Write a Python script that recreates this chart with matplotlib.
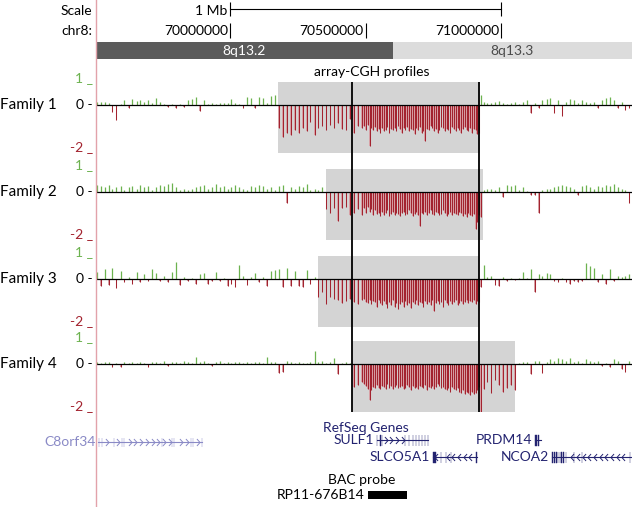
import numpy as np
import matplotlib
matplotlib.use('Agg')
import matplotlib.pyplot as plt
from matplotlib.path import Path
from matplotlib.lines import Line2D

plt.rcParams['font.family'] = ['Lato', 'DejaVu Sans']

# ---------------- data ----------------
VIEW_START, VIEW_END = 69.5055, 71.4834  # Mb, chr8

scale_ticks = [70.0, 70.5, 71.0]
scale_labels = ['70000000', '70500000', '71000000']
scale_bar = [70.0, 71.0]

band_names = ['8q13.2', '8q13.3']
band_start = [69.5055, 70.601]
band_end = [70.601, 71.4834]

probe_mb = [
    69.510, 69.524, 69.537, 69.553, 69.566, 69.581, 69.597, 69.610, 69.626, 69.640,
    69.655, 69.668, 69.684, 69.699, 69.712, 69.728, 69.742, 69.757, 69.770, 69.786,
    69.801, 69.815, 69.830, 69.844, 69.859, 69.873, 69.889, 69.903, 69.918, 69.932,
    69.947, 69.962, 69.976, 69.991, 70.005, 70.020, 70.034, 70.049, 70.064, 70.078,
    70.093, 70.107, 70.122, 70.137, 70.151, 70.166, 70.180, 70.195, 70.210, 70.224,
    70.239, 70.253, 70.268, 70.283, 70.297, 70.312, 70.326, 70.341, 70.356, 70.370,
    70.385, 70.399, 70.414, 70.429, 70.443, 70.458, 70.472, 70.487,
    70.495, 70.502, 70.508, 70.515, 70.522, 70.528, 70.535, 70.541, 70.548, 70.555,
    70.561, 70.568, 70.575, 70.581, 70.588, 70.594, 70.601, 70.608, 70.614, 70.621,
    70.628, 70.634, 70.641, 70.647, 70.654, 70.661, 70.667, 70.674, 70.681, 70.687,
    70.694, 70.700, 70.707, 70.714, 70.720, 70.727, 70.734, 70.740, 70.747, 70.753,
    70.760, 70.767, 70.773, 70.780, 70.787, 70.793, 70.800, 70.806, 70.813, 70.820,
    70.826, 70.833, 70.840, 70.846, 70.853, 70.859, 70.866, 70.873, 70.879, 70.886,
    70.893, 70.899, 70.906, 70.912,
    70.918, 70.927, 70.936, 70.950, 70.964, 70.979, 70.993, 71.008, 71.022, 71.037,
    71.051, 71.066, 71.080, 71.095, 71.110, 71.124, 71.139, 71.153, 71.168, 71.182,
    71.197, 71.212, 71.226, 71.241, 71.255, 71.270, 71.284, 71.299, 71.314, 71.328,
    71.343, 71.357, 71.372, 71.386, 71.401, 71.416, 71.430, 71.445, 71.459, 71.474,
]

family1 = [
    0.15, 0.12, 0.15, 0.1, -0.3, -0.65, 0.05, 0.2, -0.12, 0.25,
    0.18, 0.2, 0.15, 0.22, 0.1, 0.3, 0.12, 0.05, -0.1, 0.05,
    -0.15, 0.05, -0.1, 0.2, 0.25, 0.35, -0.25, 0.2, 0.05, 0.08,
    0.05, 0.1, 0.08, 0.1, 0.25, 0.1, 0.05, -0.15, 0.35, 0.3,
    -0.12, 0.35, 0.3, 0.1, 0.4, 0.45, -1.0, -1.4, -1.2, -1.3,
    -1.1, -1.2, -1.0, -1.15, -0.75, -1.3, -1.0, -0.9, -1.1, -0.85,
    -1.0, -0.8, -1.05, -1.1, -0.6, -1.2, -0.9, -1.0,
    -0.9, -1.1, -0.85, -1.8, -1.0, -1.1, -0.95, -1.15, -1.05, -1.2,
    -1.0, -1.15, -1.1, -0.95, -1.2, -1.05, -1.1, -1.0, -1.15, -0.9,
    -1.05, -1.2, -1.0, -1.1, -0.95, -1.15, -1.05, -1.1, -1.25, -1.0,
    -1.1, -0.95, -1.2, -1.15, -1.55, -1.05, -1.1, -0.9, -1.0, -1.15,
    -1.05, -1.2, -1.1, -0.95, -1.0, -1.15, -1.05, -1.1, -1.2, -0.95,
    -1.05, -1.15, -1.0, -1.1, -1.2, -1.05, -0.95, -1.1, -1.15, -1.0,
    -1.2, -1.05, -1.1, -1.25,
    -1.2, 0.45, 0.12, 0.08, 0.1, 0.15, 0.18, 0.1, 0.05, 0.08,
    0.15, 0.05, 0.12, 0.2, -0.35, 0.1, -0.15, 0.2, 0.25, 0.3,
    -0.35, 0.2, -0.5, 0.15, 0.25, 0.2, 0.1, 0.2, 0.15, 0.08,
    0.12, -0.15, 0.2, 0.3, 0.35, 0.2, -0.12, 0.15, -0.2, -0.15,
]

family2 = [
    0.3, 0.25, 0.2, 0.3, 0.15, 0.2, 0.25, 0.1, 0.2, 0.25,
    0.15, 0.3, 0.2, 0.25, 0.1, 0.2, 0.3, 0.25, 0.35, 0.4,
    0.2, 0.1, 0.15, 0.1, 0.15, 0.2, 0.25, 0.3, 0.15, 0.2,
    0.35, 0.2, 0.25, 0.15, 0.2, 0.3, 0.2, 0.15, 0.1, 0.25,
    0.2, 0.3, 0.25, 0.15, 0.2, 0.1, 0.25, 0.3, -0.5, 0.2,
    0.15, 0.25, 0.2, 0.35, 0.1, 0.15, 0.1, 0.2,
    -0.75, -0.9, -0.7, -1.25, -0.7, -0.65, -1.0, -0.9, -0.75, -1.0,
    -0.7, -0.9, -0.65, -0.85, -0.75, -1.0, -0.8, -0.95, -0.9, -1.05,
    -0.85, -1.0, -0.9, -0.8, -1.05, -0.95, -0.85, -1.0, -0.9, -0.95,
    -1.05, -0.9, -0.85, -1.0, -0.95, -0.8, -0.9, -1.05, -0.95, -0.85,
    -1.0, -1.5, -0.9, -0.95, -0.85, -1.0, -0.9, -0.8, -0.95, -1.0,
    -0.85, -0.9, -1.0, -0.95, -0.8, -0.9, -1.05, -0.95, -0.85, -1.0,
    -0.9, -0.95, -1.0, -0.85, -0.9, -1.05, -0.95, -1.1, -0.9, -1.0,
    -1.05, -0.95, -1.6, -1.3,
    -1.0, -1.1, 0.1, 0.12, 0.15, 0.1, 0.2, -0.2, 0.3, 0.25,
    0.3, 0.1, 0.2, 0.05, -0.15, -0.15, -0.9, 0.1, 0.15, 0.12,
    0.2, 0.25, 0.3, 0.25, 0.2, 0.15, -0.15, 0.25, 0.3, 0.2,
    0.15, 0.25, 0.2, 0.3, 0.25, 0.35, 0.2, 0.15, 0.1, -0.5,
]

family3 = [
    0.3, -0.3, 0.45, -0.25, 0.5, -0.4, 0.35, -0.15, 0.1, -0.2,
    0.3, -0.15, 0.2, -0.1, 0.45, 0.25, -0.1, 0.15, -0.15, 0.3,
    0.75, -0.25, 0.1, -0.1, 0.05, -0.2, 0.2, 0.25, -0.2, -0.1,
    0.3, -0.1, 0.05, -0.3, -0.2, -0.35, 0.6, 0.15, -0.25, 0.1,
    0.25, -0.15, 0.1, -0.3, 0.35, 0.4, 0.45, -0.35, 0.5, -0.3,
    0.35, -0.3, -0.35, 0.4, -0.2, 0.1,
    -0.8, -0.55, -1.1, -0.8, -0.85, -0.9, -1.05, -0.95, -0.85, -1.0, -1.1, -0.9,
    -0.85, -1.0, -1.05, -0.9, -1.1, -0.95, -1.0, -1.2, -0.9, -1.05,
    -1.15, -0.95, -1.1, -1.25, -1.0, -1.15, -0.9, -1.2, -1.05, -1.3,
    -1.1, -1.0, -1.2, -0.95, -1.15, -1.05, -1.25, -1.0, -1.1, -0.9,
    -1.15, -1.0, -1.05, -1.2, -0.95, -1.1, -1.0, -1.15, -0.9, -1.4,
    -1.05, -0.95, -1.1, -1.0, -1.2, -0.9, -1.05, -1.15, -0.95, -1.1,
    -1.0, -0.9, -1.15, -1.05, -0.95, -1.1, -1.0, -0.9, -1.05, -0.95,
    -1.0, -0.9, -1.1, -0.95,
    -1.0, -0.35, 0.6, 0.1, 0.15, -0.25, -0.3, 0.1, -0.1, 0.05,
    -0.05, 0.05, 0.3, 0.05, 0.45, -0.55, 0.2, 0.15, 0.25, 0.2,
    -0.1, -0.15, 0.05, -0.15, -0.2, -0.1, -0.15, -0.1, 0.7, 0.55,
    0.5, -0.15, 0.2, -0.2, 0.45, -0.1, 0.15, 0.1, 0.15, 0.2,
]

family4 = [
    0.1, 0.05, 0.1, 0.08, -0.15, 0.05, -0.15, 0.1, 0.05, 0.08,
    0.05, 0.1, 0.05, -0.15, 0.08, 0.1, 0.05, 0.12, -0.1, 0.08,
    0.1, 0.05, 0.15, 0.1, 0.05, 0.3, 0.1, 0.15, 0.05, -0.1,
    0.1, 0.15, 0.05, 0.1, 0.05, 0.1, 0.08, 0.05, 0.1, 0.05,
    0.08, 0.1, 0.05, 0.3, 0.1, 0.1, -0.4, -0.35, 0.15, 0.08,
    0.05, 0.1, 0.05, 0.05, 0.08, 0.55, 0.1, 0.12, 0.05, 0.1,
    0.25, -0.45, 0.05, 0.1, 0.05,
    -1.0, -0.9, -0.8,
    -0.85, -0.95, -1.1, -1.55, -1.15, -1.0, -1.05, -0.9, -1.05, -1.1,
    -0.95, -1.0, -1.1, -0.85, -1.05, -0.95, -1.1, -1.0, -0.9, -1.05,
    -1.0, -0.95, -1.1, -1.05, -0.9, -1.0, -1.15, -0.95, -1.05, -1.0,
    -1.1, -0.95, -1.0, -1.05, -0.9, -1.15, -1.0, -1.05, -0.95, -1.1,
    -1.0, -0.85, -0.95, -1.05, -1.0, -1.1, -1.15, -1.05, -1.2, -1.0,
    -1.1, -1.15, -1.05, -1.2, -1.25, -1.15, -1.3, -1.2, -1.25, -1.35,
    -1.2, -1.3, -1.25, -1.15,
    -1.0, -2.15, -1.1, -0.8, -1.25, -0.7, -0.9, -1.2, -1.05, -0.9, -1.15,
    0.05, 0.1, 0.08, -0.45, 0.12, 0.15, -0.4, 0.1, 0.2,
    0.15, 0.25, 0.2, 0.15, 0.25, 0.1, 0.12, 0.05, 0.2, 0.15,
    0.1, 0.15, -0.1, 0.05, -0.15, 0.2, 0.15, -0.2, -0.35, 0.15,
]

family_names = ['Family 1', 'Family 2', 'Family 3', 'Family 4']
family_values = [family1, family2, family3, family4]
deletion_start = [70.177, 70.354, 70.325, 70.450]
deletion_end = [70.922, 70.933, 70.919, 71.052]
common_region = [70.450, 70.919]

gene_names = ['SULF1', 'SLCO5A1', 'PRDM14', 'NCOA2', 'C8orf34']
gene_start = [70.541, 70.749, 71.125, 71.188, 69.513]
gene_end = [70.731, 70.911, 71.148, 71.4834, 69.898]
gene_strand = ['+', '-', '-', '-', '+']
gene_exons = [
    [(70.541, 70.542), (70.554, 70.556), (70.561, 70.562), (70.645, 70.647), (70.660, 70.662),
     (70.674, 70.676), (70.685, 70.687), (70.696, 70.698), (70.707, 70.709),
     (70.719, 70.721), (70.729, 70.731)],
    [(70.749, 70.760), (70.778, 70.780), (70.796, 70.798), (70.814, 70.816), (70.909, 70.911)],
    [(71.126, 71.131), (71.137, 71.140)],
    [(71.188, 71.191), (71.195, 71.198), (71.202, 71.205), (71.209, 71.212), (71.216, 71.219),
     (71.223, 71.226), (71.230, 71.233), (71.239, 71.241), (71.268, 71.270),
     (71.298, 71.300), (71.475, 71.477)],
    [(69.515, 69.516), (69.527, 69.528), (69.571, 69.572), (69.600, 69.601), (69.608, 69.609),
     (69.748, 69.749), (69.785, 69.786), (69.792, 69.793), (69.855, 69.856),
     (69.862, 69.863), (69.896, 69.897)],
]

bac_name = 'RP11-676B14'
bac_start, bac_end = 70.509, 70.653

# ---------------- layout / style ----------------
W, H = 637, 507
LEFT, RIGHT = 96, 632
zero_rows = [105, 192, 279, 364]
UNIT = 23.0
YTOP, YBOT = 1.0, -2.1
gene_rows = [440, 457, 440, 457, 442]
GREEN = '#6cb24f'
RED = '#a3232f'
PINK = '#d9a2a7'
NAVY = '#232370'
LILAC = '#8a8ac6'
FS = 10

fig = plt.figure(figsize=(W / 100, H / 100), dpi=100)


def fx(px):
    return px / W


def fy(py):
    return 1 - py / H


pos = np.array(probe_mb)
for name, vals, z, ds, de in zip(family_names, family_values, zero_rows,
                                 deletion_start, deletion_end):
    top = z - UNIT * YTOP
    bot = z - UNIT * YBOT
    ax = fig.add_axes([fx(LEFT), fy(bot), fx(RIGHT - LEFT), (bot - top) / H])
    ax.set_xlim(VIEW_START, VIEW_END)
    ax.set_ylim(YBOT, YTOP)
    ax.axis('off')
    ax.axvspan(ds, de, color='#d4d4d4', lw=0, zorder=0)
    v = np.array(vals)
    m = v > 0
    ax.vlines(pos[m], 0, v[m], color=GREEN, lw=0.9, zorder=1)
    ax.bar(pos[~m], v[~m], width=0.0055, color=PINK, lw=0, zorder=1)
    ax.vlines(pos[~m], 0, v[~m], color=RED, lw=0.75, zorder=2)
    ax.axhline(0, color='black', lw=0.9, zorder=3)
    tr = ax.get_yaxis_transform()
    ax.text(-0.006, 1.0, '1 _', color=GREEN, fontsize=FS, ha='right', va='baseline',
            transform=tr)
    ax.text(-0.006, 0.0, '0 -', color='black', fontsize=FS, ha='right', va='center',
            transform=tr)
    ax.text(-0.006, -2.0, '-2 _', color=RED, fontsize=FS, ha='right', va='baseline',
            transform=tr)
    fig.text(0.0, fy(z), name, fontsize=11, ha='left', va='center')

# overlay axes in pixel rows
ov = fig.add_axes([fx(LEFT), 0, fx(RIGHT - LEFT), 1])
ov.set_xlim(VIEW_START, VIEW_END)
ov.set_ylim(H, 0)
ov.axis('off')
ov.patch.set_alpha(0)

# common region lines
ov.vlines(common_region, zero_rows[0] - UNIT * YTOP, zero_rows[-1] - UNIT * YBOT,
          color='black', lw=1.3)

# scale bar
ov.plot(scale_bar, [9, 9], color='black', lw=0.8)
ov.vlines(scale_bar, 2, 16, color='black', lw=0.8)
ov.annotate('1 Mb', xy=(scale_bar[0], 11), xytext=(-2, 0), textcoords='offset points',
            ha='right', va='center', fontsize=FS)
fig.text(fx(92), fy(11), 'Scale', ha='right', va='center', fontsize=FS)
fig.text(fx(92), fy(31), 'chr8:', ha='right', va='center', fontsize=FS)
ov.vlines(scale_ticks, 23, 38, color='black', lw=0.8)
for t, lab in zip(scale_ticks, scale_labels):
    ov.annotate(lab, xy=(t, 31), xytext=(-1.5, 0), textcoords='offset points',
                ha='right', va='center', fontsize=FS)

# ideogram
band_colors = ['#5b5b5b', '#dcdcdc']
band_text = ['white', '#4a4a4a']
for n, s, e, c, tc in zip(band_names, band_start, band_end, band_colors, band_text):
    ov.broken_barh([(s, e - s)], (42, 17), facecolors=c, lw=0)
    ov.text((s + e) / 2, 51, n, ha='center', va='center', color=tc, fontsize=FS)

fig.text(fx(372), fy(72), 'array-CGH profiles', ha='center', va='center', fontsize=FS)

# genes
fig.text(fx(366), fy(428), 'RefSeq Genes', ha='center', va='center', fontsize=FS,
         color=NAVY)

chev_right = Path([(-0.45, 1.0), (0.45, 0.0), (-0.45, -1.0)],
                  [Path.MOVETO, Path.LINETO, Path.LINETO])
chev_left = Path([(0.45, 1.0), (-0.45, 0.0), (0.45, -1.0)],
                 [Path.MOVETO, Path.LINETO, Path.LINETO])

for g, s, e, st, ex, y in zip(gene_names, gene_start, gene_end,
                              gene_strand, gene_exons, gene_rows):
    col = LILAC if g == 'C8orf34' else NAVY
    h = 9 if g == 'C8orf34' else 11
    ov.plot([s, e], [y, y], color=col, lw=0.8)
    ov.broken_barh([(a, b - a) for a, b in ex], (y - h / 2, h), facecolors=col,
                   edgecolors=col, lw=0.3)
    # strand chevrons
    cx = np.arange(s + 0.012, e - 0.006, 0.021)
    exc = np.array([(a + b) / 2 for a, b in ex])
    cx = [c for c in cx if np.min(np.abs(exc - c)) > 0.006]
    ov.plot(cx, [y] * len(cx), ls='none',
            marker=chev_right if st == '+' else chev_left,
            markersize=5, mfc='none', mec=col, mew=0.7)
    ov.annotate(g, xy=(s, y), xytext=(-2, 0), textcoords='offset points',
                ha='right', va='center', fontsize=FS, color=col)

# BAC probe
fig.text(fx(362), fy(480), 'BAC probe', ha='center', va='center', fontsize=FS)
ov.broken_barh([(bac_start, bac_end - bac_start)], (491, 8), facecolors='black', lw=0)
ov.annotate(bac_name, xy=(bac_start, 495), xytext=(-2.5, 0), textcoords='offset points',
            ha='right', va='center', fontsize=FS)

# browser left border
fig.add_artist(Line2D([fx(95.5), fx(95.5)], [0, 1], color='#e2a2aa', lw=1.0))

fig.savefig('out.png', dpi=100)
